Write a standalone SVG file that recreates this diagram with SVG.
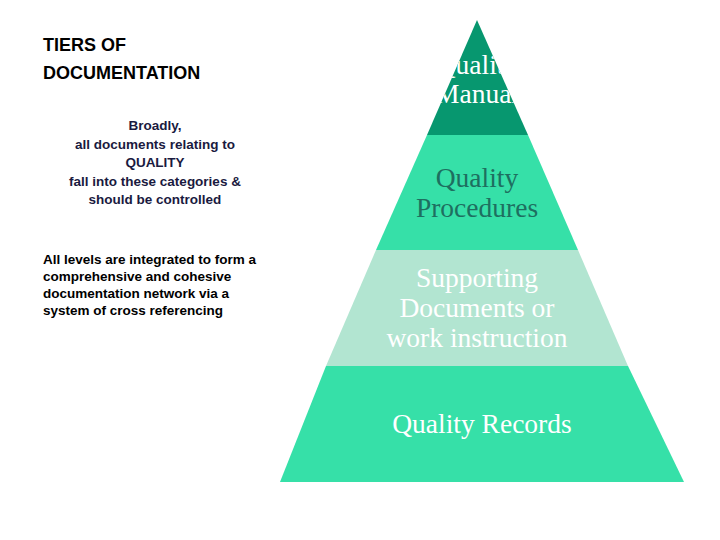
<svg xmlns="http://www.w3.org/2000/svg" width="720" height="540" viewBox="0 0 720 540">
<style>
.h{font-family:"Liberation Sans",Arial,sans-serif;font-size:18px;font-weight:bold;fill:#000}
.s{font-family:"Liberation Sans",Arial,sans-serif;font-size:13.5px;font-weight:bold;fill:#1a1a40}
.t{font-family:"Liberation Serif","Times New Roman",serif;font-size:27.5px;text-anchor:middle}
</style>
<defs><clipPath id="c1"><polygon points="477,20 528,135 427,135"/></clipPath></defs>
<rect width="720" height="540" fill="#fff"/>
<g id="left">
<text class="h" x="43" y="51">TIERS OF</text>
<text class="h" x="43" y="79">DOCUMENTATION</text>
<g text-anchor="middle"><text class="s" x="155" y="130">Broadly,</text>
<text class="s" x="155" y="149">all documents relating to</text>
<text class="s" x="155" y="167">QUALITY</text>
<text class="s" x="155" y="186">fall into these categories &amp;</text>
<text class="s" x="155" y="204">should be controlled</text></g>
<text class="s" x="43" y="264" style="fill:#000">All levels are integrated to form a</text>
<text class="s" x="43" y="281" style="fill:#000">comprehensive and cohesive</text>
<text class="s" x="43" y="298" style="fill:#000">documentation network via a</text>
<text class="s" x="43" y="315" style="fill:#000">system of cross referencing</text>
</g>
<g id="tier1"><polygon points="477,20 528,135 427,135" fill="#07976f"/>
<g clip-path="url(#c1)" fill="#fff"><text class="t" x="477" y="74">Quality</text><text class="t" x="477" y="103">Manual</text></g></g>
<g id="tier2"><polygon points="427,135 528,135 578,250 376,250" fill="#36e0a8"/>
<text class="t" x="477" y="187" fill="#1e6f60">Quality</text><text class="t" x="477" y="217" fill="#1e6f60">Procedures</text></g>
<g id="tier3"><polygon points="376,250 578,250 628,366 326,366" fill="#b2e5d1"/>
<g fill="#fff"><text class="t" x="477" y="287">Supporting</text><text class="t" x="477" y="317">Documents or</text><text class="t" x="477" y="347">work instruction</text></g></g>
<g id="tier4"><polygon points="326,366 628,366 684,482 280,482" fill="#36e0a8"/>
<text class="t" x="482" y="433" fill="#fff">Quality Records</text></g>
</svg>
